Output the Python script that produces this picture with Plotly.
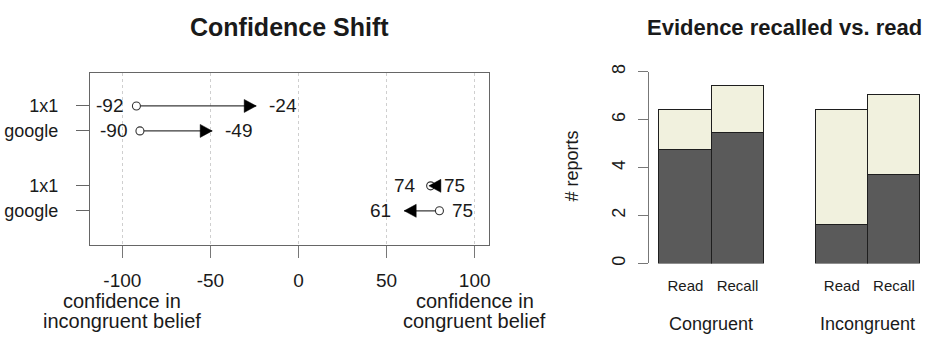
import plotly.graph_objects as go

# ---------------- data: Confidence Shift ----------------
row_labels = ["1x1", "google", "1x1", "google"]
row_pos = [4.2, 3.2, 1.0, 0.0]
start_vals = [-92, -90, 75, 80]
end_vals = [-24, -49, 74, 60]
start_labels = ["-92", "-90", "75", "75"]
end_labels = ["-24", "-49", "74", "61"]
x_ticks = [-100, -50, 0, 50, 100]

# ---------------- data: Evidence recalled vs. read ----------------
groups = ["Congruent", "Incongruent"]
bar_labels = ["Read", "Recall"]
dark_vals = [4.76, 5.44, 1.63, 3.72]      # lower (dark) segment
light_vals = [1.64, 1.97, 4.79, 3.31]     # upper (light) segment
y2_ticks = [0, 2, 4, 6, 8]

FONT = "Liberation Sans, Arial, sans-serif"
TXT = "#1a1a1a"
W, H = 934, 337
HEAD_L, HEAD_W = 12, 6.5   # arrowhead size in px

fig = go.Figure()
shapes = []

# arrow shafts
for i in range(len(row_labels)):
    fig.add_trace(go.Scatter(
        x=[start_vals[i], end_vals[i]],
        y=[row_pos[i], row_pos[i]],
        mode="lines",
        line=dict(color="#3a3a3a", width=1.3),
        xaxis="x", yaxis="y", showlegend=False, hoverinfo="skip",
    ))
    # filled arrowhead, tip at the end value, fixed pixel size
    d = 1 if end_vals[i] >= start_vals[i] else -1
    shapes.append(dict(
        type="path", xref="x", yref="y",
        xsizemode="pixel", ysizemode="pixel",
        xanchor=end_vals[i], yanchor=row_pos[i],
        path=f"M0,0 L{-d * HEAD_L},{HEAD_W} L{-d * HEAD_L},{-HEAD_W} Z",
        fillcolor="#000000", line=dict(color="#000000", width=0.5), layer="above",
    ))

# open circles at the start values
fig.add_trace(go.Scatter(
    x=start_vals, y=row_pos, mode="markers",
    marker=dict(symbol="circle", size=8, color="white",
                line=dict(color="#333333", width=1.1)),
    xaxis="x", yaxis="y", showlegend=False, hoverinfo="skip",
))

annotations = []
for i in range(len(row_labels)):
    if start_vals[i] <= end_vals[i]:
        lo_v, lo_t, hi_v, hi_t = start_vals[i], start_labels[i], end_vals[i], end_labels[i]
    else:
        lo_v, lo_t, hi_v, hi_t = end_vals[i], end_labels[i], start_vals[i], start_labels[i]
    annotations.append(dict(x=lo_v, y=row_pos[i], xref="x", yref="y", text=lo_t,
                            showarrow=False, xanchor="right", xshift=-11,
                            font=dict(size=19, color=TXT, family=FONT)))
    annotations.append(dict(x=hi_v, y=row_pos[i], xref="x", yref="y", text=hi_t,
                            showarrow=False, xanchor="left", xshift=11,
                            font=dict(size=19, color=TXT, family=FONT)))

# x-axis descriptive labels
for xv, lines in [(x_ticks[0], ["confidence in", "incongruent belief"]),
                  (x_ticks[-1], ["confidence in", "congruent belief"])]:
    for k, t in enumerate(lines):
        annotations.append(dict(x=xv, y=1 - (302 + 21 * k) / H, xref="x", yref="paper",
                                text=t, showarrow=False, xanchor="center", yanchor="middle",
                                font=dict(size=20, color=TXT, family=FONT)))

# bars
bar_x = [g * 3 + b + 0.5 for g in range(len(groups)) for b in range(len(bar_labels))]
fig.add_trace(go.Bar(x=bar_x, y=dark_vals, width=1, marker=dict(color="#5a5a5a",
              line=dict(color="#1e1e1e", width=1)), xaxis="x2", yaxis="y2",
              showlegend=False, hoverinfo="skip"))
fig.add_trace(go.Bar(x=bar_x, y=light_vals, width=1, marker=dict(color="#f1f1de",
              line=dict(color="#1e1e1e", width=1)), xaxis="x2", yaxis="y2",
              showlegend=False, hoverinfo="skip"))

for g, name in enumerate(groups):
    annotations.append(dict(x=g * 3 + 1.0, y=1 - 326 / H, xref="x2", yref="paper",
                            text=name, showarrow=False, xanchor="center", yanchor="middle",
                            font=dict(size=18, color=TXT, family=FONT)))

annotations.append(dict(x=573 / W, y=1 - 163 / H, xref="paper", yref="paper",
                        text="# reports", textangle=-90, showarrow=False,
                        xanchor="center", yanchor="middle",
                        font=dict(size=18, color=TXT, family=FONT)))

# titles
annotations.append(dict(x=290 / W, y=1 - 20 / H, xref="paper", yref="paper",
                        text="<b>Confidence Shift</b>", showarrow=False,
                        xanchor="center", yanchor="middle",
                        font=dict(size=25, color=TXT, family=FONT)))
annotations.append(dict(x=785 / W, y=1 - 20 / H, xref="paper", yref="paper",
                        text="<b>Evidence recalled vs. read</b>", showarrow=False,
                        xanchor="center", yanchor="middle",
                        font=dict(size=22, color=TXT, family=FONT)))

fig.update_layout(
    width=W, height=H,
    margin=dict(l=0, r=0, t=0, b=0),
    paper_bgcolor="white", plot_bgcolor="white",
    barmode="stack", bargap=0,
    font=dict(family=FONT, color=TXT),
    annotations=annotations,
    shapes=shapes,
    xaxis=dict(domain=[90 / W, 490 / W], range=[-118.4, 108.4],
               tickvals=x_ticks, ticktext=[str(v) for v in x_ticks],
               ticks="outside", ticklen=12, tickcolor="#777777", tickwidth=1.2,
               showgrid=True, gridcolor="#cfcfcf", griddash="dot", gridwidth=1,
               zeroline=False, showline=True, linecolor="#666666", linewidth=1.2,
               mirror=True, tickfont=dict(size=19, color=TXT), ticklabelstandoff=6),
    yaxis=dict(domain=[1 - 244 / H, 1 - 67 / H], range=[-1.36, 5.52],
               tickvals=row_pos, ticktext=row_labels,
               ticks="outside", ticklen=13, tickcolor="#666666", tickwidth=1.2,
               showgrid=False, zeroline=False, showline=True, linecolor="#666666",
               linewidth=1.2, mirror=True, tickfont=dict(size=18, color=TXT),
               ticklabelstandoff=14),
    xaxis2=dict(domain=[649.6 / W, 931.4 / W], range=[-0.2, 5.2],
                tickvals=bar_x, ticktext=[bar_labels[b] for g in range(len(groups)) for b in range(len(bar_labels))],
                ticks="", showline=False, showgrid=False, zeroline=False,
                tickfont=dict(size=15, color=TXT), ticklabelstandoff=12, anchor="y2"),
    yaxis2=dict(domain=[1 - 263.3 / H, 1 - 65.7 / H], range=[0, 8],
                tickvals=y2_ticks, ticktext=[str(v) for v in y2_ticks], tickangle=-90,
                ticks="outside", ticklen=10, tickcolor="#777777", tickwidth=1.2,
                showline=True, linecolor="#777777", linewidth=1.2,
                showgrid=False, zeroline=False, tickfont=dict(size=18, color=TXT),
                ticklabelstandoff=6, anchor="x2"),
)

fig.write_html("out.html", config={"displayModeBar": False},
               post_script="document.body.style.margin='0';document.body.style.overflow='hidden';")
